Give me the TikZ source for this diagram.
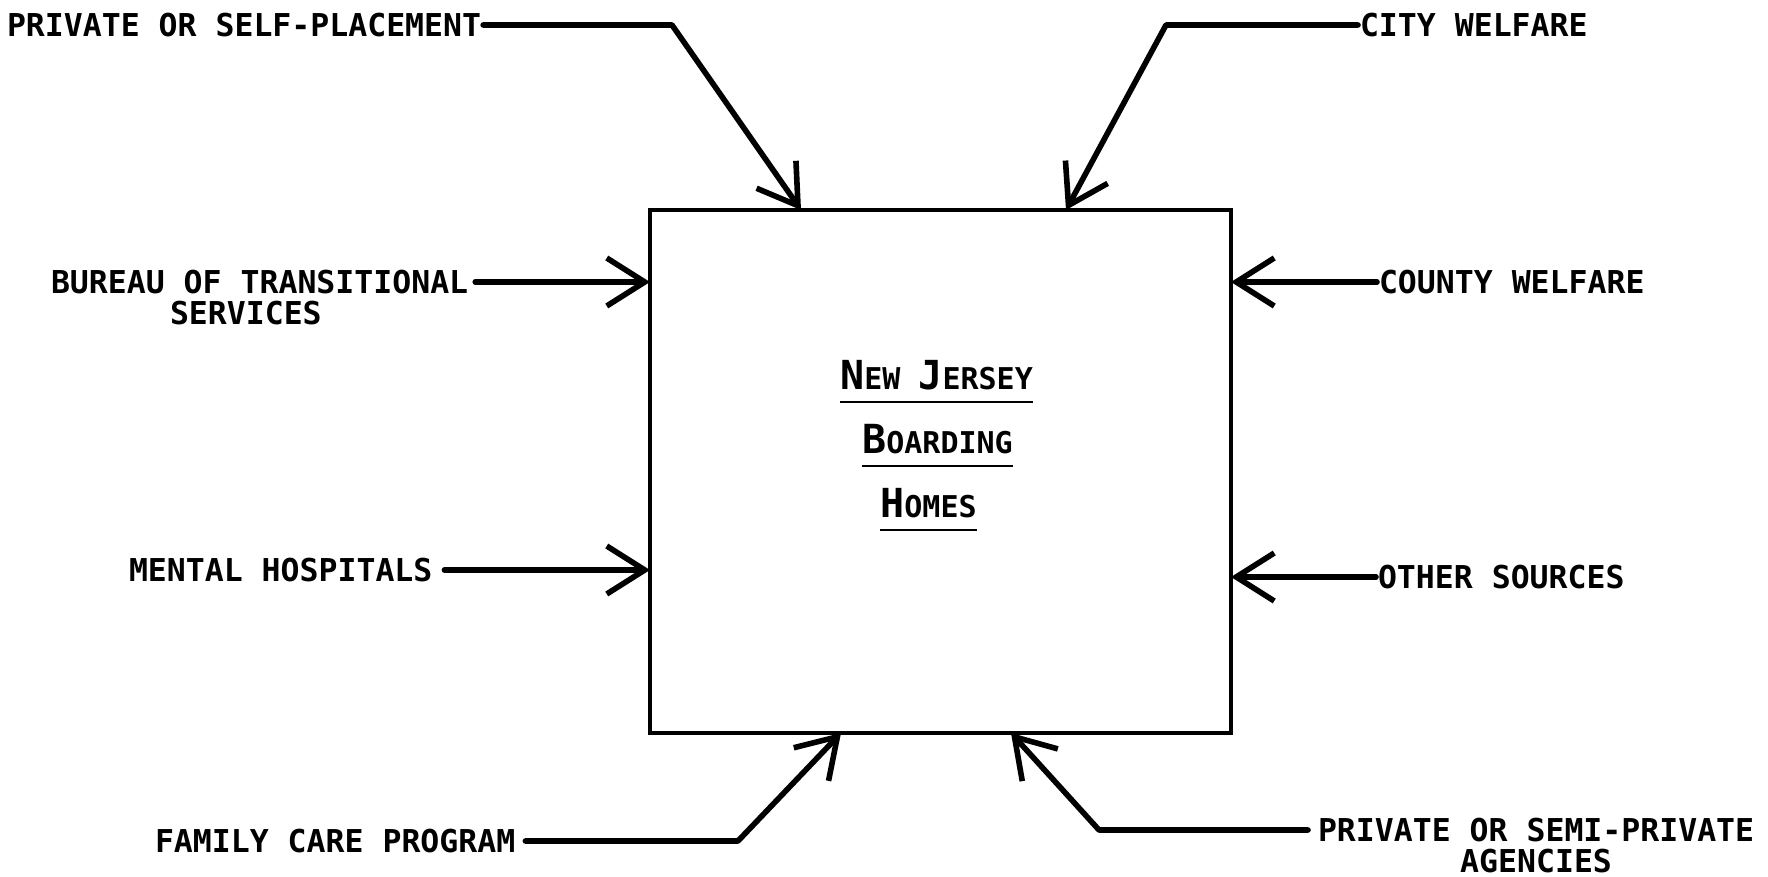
\documentclass[tikz,border=0pt]{standalone}
\usepackage{fontspec}
\newfontfamily\dmono{DejaVu Sans Mono}
\usetikzlibrary{arrows.meta}
\newcommand{\capbig}[1]{{\fontsize{20}{20}\selectfont #1}}
\newcommand{\capsml}[1]{{\fontsize{15}{15}\selectfont #1}}
\begin{document}
\begin{tikzpicture}[x=0.5pt,y=-0.5pt,
  lbl/.style={font=\dmono\bfseries\fontsize{15.75}{15.5}\selectfont, inner sep=0pt, outer sep=0pt},
  arr/.style={line width=2.8pt, line join=round, line cap=round, -{Straight Barb[length=19pt,width=24pt]}},
  boxst/.style={draw, line width=1.8pt, minimum width=290.5pt, minimum height=261.5pt, inner sep=0pt, outer sep=0pt},
  ctr/.style={font=\dmono\bfseries, inner sep=0pt, outer sep=0pt, anchor=base},
  uline/.style={line width=1.1pt}]
\fill[white] (0,0) rectangle (1768,877);
\useasboundingbox (0,0) rectangle (1768,877);
% central box
\node[boxst] (b) at (940.5,471.5) {};
% central title
\node[ctr] (nj) at (936.5,390) {\capbig{N}\capsml{EW }\capbig{J}\capsml{ERSEY}};
\node[ctr] (bd) at (937.5,453) {\capbig{B}\capsml{OARDING}};
\node[ctr] (hm) at (928.5,517) {\capbig{H}\capsml{OMES}};
\draw[uline] ([yshift=-6pt]nj.base west) -- ([yshift=-6pt]nj.base east);
\draw[uline] ([yshift=-6.5pt]bd.base west) -- ([yshift=-6.5pt]bd.base east);
\draw[uline] ([yshift=-6.5pt]hm.base west) -- ([yshift=-6.5pt]hm.base east);
% labels
\node[lbl, anchor=west] (psp) at (7,25) {PRIVATE OR SELF-PLACEMENT};
\node[lbl, anchor=west] (city) at (1360,25) {CITY WELFARE};
\node[lbl, anchor=north west, align=left] (bts) at (51,270.5) {BUREAU OF TRANSITIONAL\\\hspace*{59.5pt}SERVICES};
\node[lbl, anchor=west] (mh) at (129,570) {MENTAL HOSPITALS};
\node[lbl, anchor=west] (cw) at (1379,282) {COUNTY WELFARE};
\node[lbl, anchor=west] (os) at (1378,577) {OTHER SOURCES};
\node[lbl, anchor=west] (fcp) at (155,841) {FAMILY CARE PROGRAM};
\node[lbl, anchor=north west, align=center] (psa) at (1318,818.5) {PRIVATE OR SEMI-PRIVATE\\AGENCIES};
% knees
\coordinate (k1) at (672,25);
\coordinate (k2) at (1166,25);
\coordinate (k3) at (738,841);
\coordinate (k4) at (1099,830);
\coordinate (bts1) at ([xshift=3.5pt,yshift=-5.75pt]bts.north east);
\coordinate (psa1) at ([xshift=-5pt,yshift=-5.75pt]psa.north west);
% connectors
\draw[arr] ([xshift=1pt]psp.east) -- (k1) -- ([xshift=-69.75pt]b.north);
\draw[arr] ([xshift=-1pt]city.west) -- (k2) -- ([xshift=62.75pt]b.north);
\draw[arr] (bts1) -- (bts1 -| b.west);
\draw[arr] ([xshift=6pt]mh.east) -- (mh.east -| b.west);
\draw[arr] ([xshift=-1pt]cw.west) -- (cw.west -| b.east);
\draw[arr] ([xshift=-1pt]os.west) -- (os.west -| b.east);
\draw[arr] ([xshift=5pt]fcp.east) -- (k3) -- ([xshift=-49.75pt]b.south);
\draw[arr] (psa1) -- (k4) -- ([xshift=35.25pt]b.south);
\end{tikzpicture}
\end{document}
